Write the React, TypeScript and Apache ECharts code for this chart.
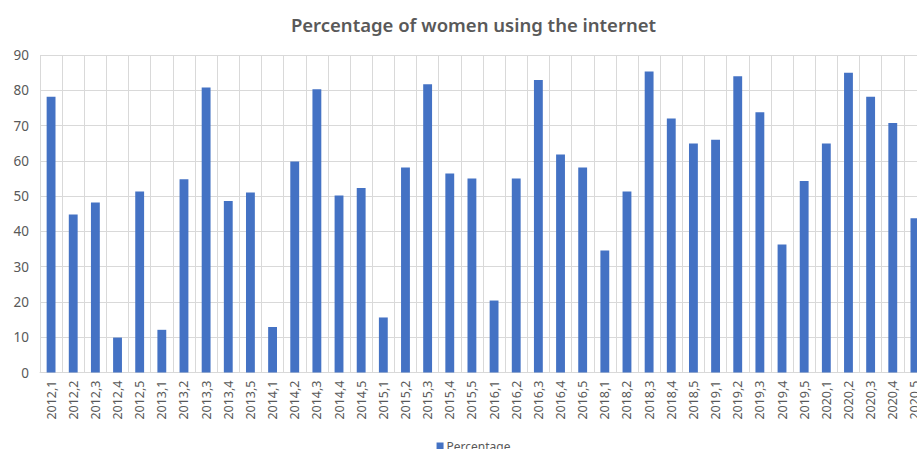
import React, { useEffect, useRef } from "react";
import * as echarts from "echarts";

const categories = [
  "2012,1", "2012,2", "2012,3", "2012,4", "2012,5",
  "2013,1", "2013,2", "2013,3", "2013,4", "2013,5",
  "2014,1", "2014,2", "2014,3", "2014,4", "2014,5",
  "2015,1", "2015,2", "2015,3", "2015,4", "2015,5",
  "2016,1", "2016,2", "2016,3", "2016,4", "2016,5",
  "2018,1", "2018,2", "2018,3", "2018,4", "2018,5",
  "2019,1", "2019,2", "2019,3", "2019,4", "2019,5",
  "2020,1", "2020,2", "2020,3", "2020,4", "2020,5",
];

const percentage = [
  78.2, 44.8, 48.2, 9.9, 51.3,
  12.1, 54.8, 80.8, 48.6, 51.0,
  12.9, 59.8, 80.3, 50.2, 52.3,
  15.6, 58.1, 81.7, 56.4, 55.0,
  20.4, 55.0, 82.9, 61.8, 58.1,
  34.6, 51.3, 85.3, 72.0, 64.9,
  66.0, 84.0, 73.8, 36.3, 54.3,
  64.9, 85.0, 78.2, 70.7, 43.7,
];

const yTicks = { min: 0, max: 90, interval: 10 };

export default function App() {
  const ref = useRef<HTMLDivElement>(null);
  useEffect(() => {
    const el = ref.current;
    if (!el) return;
    const chart = echarts.init(el, undefined, { renderer: "svg" });
    const font = "'Noto Sans', sans-serif";
    chart.setOption({
      animation: false,
      backgroundColor: "#ffffff",
      title: {
        text: "Percentage of women using the internet",
        left: "center",
        top: 10,
        textStyle: { fontFamily: font, fontSize: 18.5, fontWeight: 600, color: "#595959" },
      },
      legend: {
        data: ["Percentage"],
        left: "center",
        top: 435,
        icon: "rect",
        itemWidth: 7,
        itemHeight: 7,
        itemGap: 4,
        textStyle: { fontFamily: font, fontSize: 12, color: "#595959", padding: [0, 0, 0, -2] },
      },
      grid: { left: 40, right: 21, top: 55, bottom: 449 - 372.5, containLabel: false },
      xAxis: {
        type: "category",
        data: categories,
        boundaryGap: true,
        axisLine: { show: true, lineStyle: { color: "#d9d9d9", width: 1 } },
        axisTick: { show: false },
        splitLine: { show: true, interval: 0, lineStyle: { color: "#d9d9d9", width: 1 } },
        axisLabel: {
          interval: 0,
          rotate: 90,
          margin: 8,
          fontFamily: font,
          fontSize: 12.5,
          color: "#595959",
        },
      },
      yAxis: {
        type: "value",
        min: yTicks.min,
        max: yTicks.max,
        interval: yTicks.interval,
        axisLine: { show: false },
        axisTick: { show: false },
        splitLine: { show: true, lineStyle: { color: "#d9d9d9", width: 1 } },
        axisLabel: { fontFamily: font, fontSize: 13.5, color: "#595959", margin: 11 },
      },
      series: [
        {
          name: "Percentage",
          type: "bar",
          data: percentage,
          barCategoryGap: "60%",
          itemStyle: { color: "#4472C4" },
        },
      ],
    });
    return () => chart.dispose();
  }, []);
  return (
    <div style={{ position: "fixed", left: 0, top: 0, width: 917, height: 449, overflow: "hidden", background: "#fff" }}>
      <div ref={ref} style={{ width: 947, height: 449 }} />
    </div>
  );
}
